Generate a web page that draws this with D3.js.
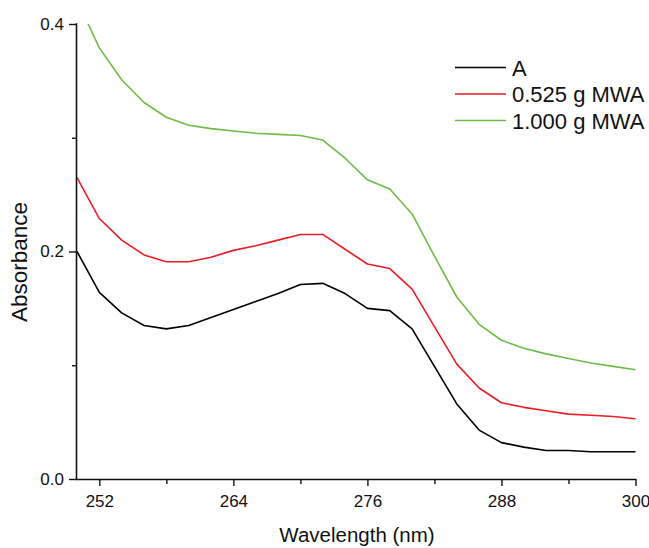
<!DOCTYPE html>
<html>
<head>
<meta charset="utf-8">
<script src="https://cdn.jsdelivr.net/npm/d3@7"></script>
<style>
  body { margin: 0; background: #fff; }
  svg { display: block; }
  text { font-family: "Liberation Sans", Arial, sans-serif; fill: #111; }
</style>
</head>
<body>
<svg id="chart" width="649" height="548"></svg>
<script>
const wavelengths = [250,252,254,256,258,260,262,264,266,268,270,272,274,276,278,280,282,284,286,288,290,292,294,296,298,300];
const seriesA   = [0.200,0.164,0.146,0.135,0.132,0.135,0.142,0.149,0.156,0.163,0.171,0.172,0.163,0.150,0.148,0.132,0.099,0.066,0.043,0.032,0.028,0.025,0.025,0.024,0.024,0.024];
const series525 = [0.265,0.229,0.210,0.197,0.191,0.191,0.195,0.201,0.205,0.210,0.215,0.215,0.202,0.189,0.185,0.167,0.134,0.101,0.080,0.067,0.063,0.060,0.057,0.056,0.055,0.053];
const series1000= [0.421,0.379,0.351,0.331,0.318,0.311,0.308,0.306,0.304,0.303,0.302,0.298,0.282,0.263,0.255,0.233,0.196,0.160,0.136,0.122,0.115,0.110,0.106,0.102,0.099,0.096];
const seriesNames = ["A", "0.525 g MWA", "1.000 g MWA"];
const seriesColors = ["#000000", "#ec1c24", "#6cbd45"];
const xTicks = [252,258,264,270,276,282,288,294,300];
const xTickLabels = ["252","","264","","276","","288","","300"];
const yTicks = [0,0.1,0.2,0.3,0.4];
const yTickLabels = ["0.0","","0.2","","0.4"];

const svg = d3.select("#chart");
const x = d3.scaleLinear().domain([250,300]).range([77,635.5]);
const y = d3.scaleLinear().domain([0,0.4]).range([479,24]);

svg.append("defs").append("clipPath").attr("id","clip")
  .append("rect").attr("x",77).attr("y",24).attr("width",562).attr("height",455);

const allSeries = [seriesA, series525, series1000];
const line = d3.line().x((d,i)=>x(wavelengths[i])).y(d=>y(d));
allSeries.forEach((s,k)=>{
  svg.append("path").datum(s)
    .attr("clip-path","url(#clip)")
    .attr("fill","none").attr("stroke",seriesColors[k])
    .attr("stroke-width",1.6).attr("stroke-linejoin","round")
    .attr("d",line);
});

const tickFont = "17px";
const xAxis = d3.axisBottom(x).tickValues(xTicks)
  .tickFormat((d,i)=>xTickLabels[i]).tickSizeOuter(0).tickSize(7).tickPadding(9);
const gx = svg.append("g").attr("transform","translate(0,479)").call(xAxis);
gx.select(".domain").attr("stroke","#111").attr("stroke-width",1.6).attr("d","M76.2,0.5H636.3");
gx.selectAll(".tick line").attr("stroke","#111").attr("stroke-width",1.4)
  .attr("y2",(d,i)=>xTickLabels[i]==="" ? 5 : 7);
gx.selectAll(".tick text").style("font-size",tickFont).attr("fill","#111")
  .style("font-family","Liberation Sans, Arial, sans-serif");

const yAxis = d3.axisLeft(y).tickValues(yTicks)
  .tickFormat((d,i)=>yTickLabels[i]).tickSizeOuter(0).tickSize(8).tickPadding(5);
const gy = svg.append("g").attr("transform","translate(77,0)").call(yAxis);
gy.select(".domain").attr("stroke","#111").attr("stroke-width",1.6).attr("d","M-0.5,23.2V480");
gy.selectAll(".tick line").attr("stroke","#111").attr("stroke-width",1.4)
  .attr("x2",(d,i)=>yTickLabels[i]==="" ? -5 : -8);
gy.selectAll(".tick text").style("font-size",tickFont).attr("fill","#111")
  .style("font-family","Liberation Sans, Arial, sans-serif");

svg.append("text").attr("x",357).attr("y",542).attr("text-anchor","middle")
  .style("font-size","20.5px").text("Wavelength (nm)");
svg.append("text").attr("transform","translate(27,262) rotate(-90)")
  .attr("text-anchor","middle").style("font-size","22.5px").text("Absorbance");

const legend = svg.append("g");
seriesNames.forEach((n,k)=>{
  const yy = 67.5 + k*26.5;
  legend.append("line").attr("x1",455).attr("x2",506).attr("y1",yy).attr("y2",yy)
    .attr("stroke",seriesColors[k]).attr("stroke-width",1.6);
  legend.append("text").attr("x",512).attr("y",yy+8).style("font-size","22px").text(n);
});
</script>
</body>
</html>
